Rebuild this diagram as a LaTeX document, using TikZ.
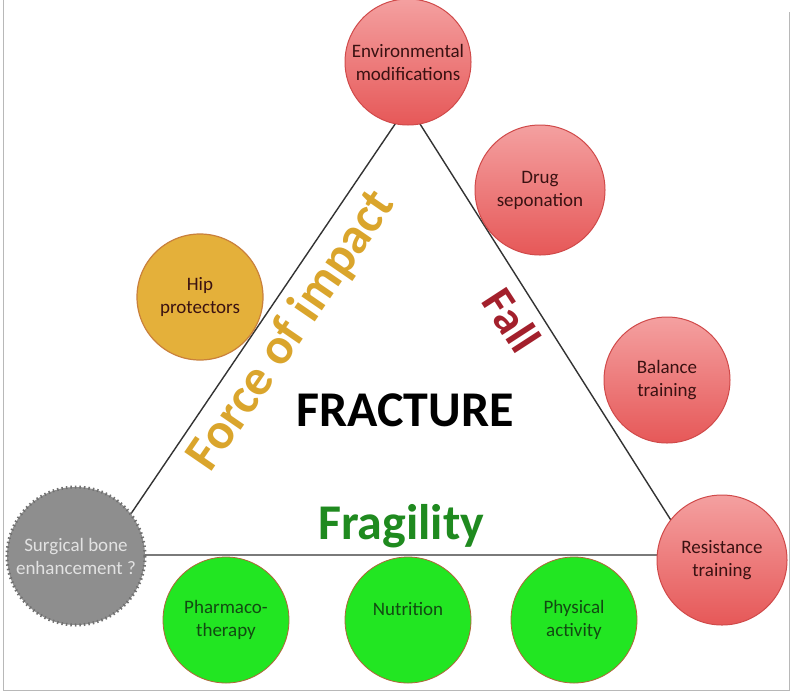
\documentclass[tikz,border=0pt]{standalone}
\usepackage{fontspec}
\setmainfont{Carlito}
\definecolor{edgec}{HTML}{333333}
\definecolor{redtop}{HTML}{F4A0A0}
\definecolor{redbot}{HTML}{E65858}
\definecolor{redline}{HTML}{D04A4A}
\definecolor{redtext}{HTML}{3A1212}
\definecolor{goldfill}{HTML}{E4B03A}
\definecolor{goldline}{HTML}{C9803C}
\definecolor{greenfill}{HTML}{22E622}
\definecolor{greenline}{HTML}{B0653A}
\definecolor{greentext}{HTML}{124A12}
\definecolor{grayfill}{HTML}{8E8E8E}
\definecolor{grayline}{HTML}{707070}
\definecolor{graytext}{HTML}{E2E2E2}
\definecolor{forcec}{HTML}{DAA52C}
\definecolor{fallc}{HTML}{A3202C}
\definecolor{fragc}{HTML}{1F8A1F}
\definecolor{framec}{HTML}{B8B8B8}
\tikzset{
  edge/.style={draw=edgec, line width=1.4pt},
  bubble/.style={circle, inner sep=0pt, minimum size=126pt, align=center,
    font=\fontsize{19}{23}\selectfont},
  redc/.style={bubble, top color=redtop, bottom color=redbot, draw=redline, line width=1pt, text=redtext},
  goldc/.style={bubble, fill=goldfill, draw=goldline, line width=1.2pt, text=redtext},
  greenc/.style={bubble, fill=greenfill, draw=greenline, line width=0.8pt, text=greentext},
  grayc/.style={bubble, minimum size=138pt, fill=grayfill, draw=grayline, line width=3pt, dash pattern=on 1.5pt off 3pt, text=graytext},
  bigword/.style={inner sep=0pt, font=\bfseries\fontsize{#1}{#1}\selectfont}
}
\begin{document}
\begin{tikzpicture}[x=1pt,y=-1pt]
\useasboundingbox (0,0) rectangle (797,694);
\fill[white] (0,0) rectangle (797,694);
% screenshot frame
\coordinate (fl1) at (3,0);
\coordinate (fl2) at (3,690);
\coordinate (fr1) at (789,12);
\coordinate (fr2) at (789,690);
\draw[framec, line width=1pt] (fl1) -- (fl2) -- (fr2) -- (fr1);
% triangle
\coordinate (A) at (408,105);
\coordinate (B) at (103,555);
\coordinate (C) at (693,555);
\draw[edge] (B) -- (A) -- (C) -- cycle;
% bubbles
\node[redc] (env) at (408,62) {Environmental\\modifications};
\node[redc, minimum size=130pt] (drug) at (540,190) {Drug\\seponation};
\node[redc] (bal) at (667,380) {Balance\\training};
\node[redc, minimum size=130pt] (res) at (722,560) {Resistance\\training};
\node[goldc] (hip) at (200,297) {Hip\\protectors};
\node[grayc] (surg) at (76,556) {Surgical bone\\enhancement ?};
\node[greenc] (pharm) at (226,620) {Pharmaco-\\therapy};
\node[greenc] (nutr) at (408,620) {Nutrition\\\mbox{}};
\node[greenc] (phys) at (574,620) {Physical\\activity};
% words
\node[bigword=50, text=black] (fract) at (405,410) {FRACTURE};
\node[bigword=51, text=forcec, rotate=55.5] (force) at (292,331) {Force of impact};
\node[bigword=46, text=fallc, rotate=-57] (fall) at (512,320) {Fall};
\node[bigword=50, text=fragc] (frag) at (401,526) {Fragility};
\end{tikzpicture}
\end{document}
